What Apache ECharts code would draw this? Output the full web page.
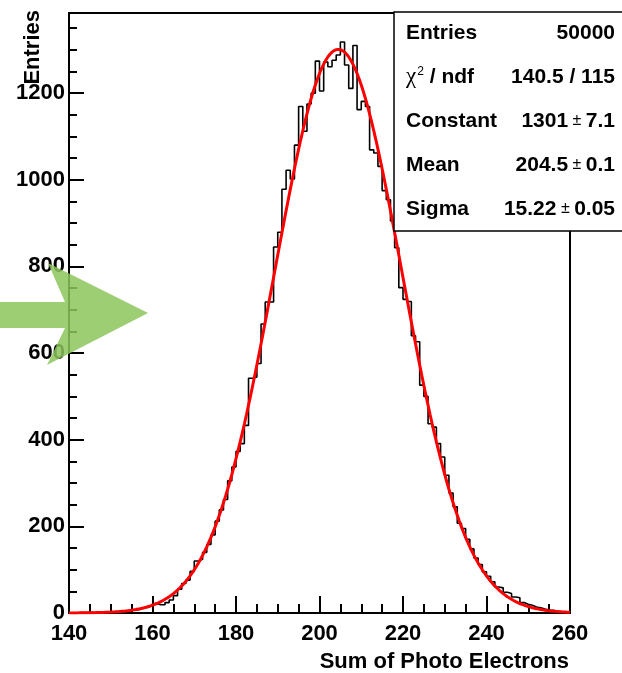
<!DOCTYPE html>
<html>
<head>
<meta charset="utf-8">
<script src="https://cdn.jsdelivr.net/npm/echarts@6/dist/echarts.min.js"></script>
<style>
html, body { margin: 0; padding: 0; background: #fff; }
#chart { width: 622px; height: 673px; }
</style>
</head>
<body>
<div id="chart"></div>
<script>
// Histogram binning: 120 bins of width 1 from 140 to 260
const xMin = 140;
const xMax = 260;
const binWidth = 1;

// Bin contents, one per bin starting at xMin
const counts = [
  0, 0, 1, 1, 1, 1, 1, 1, 2, 2,            // 140-149
  3, 3, 4, 5, 6, 7, 8, 12, 13, 17,         // 150-159
  22, 19, 19, 24, 30, 40, 55, 68, 76, 96,  // 160-169
  120, 124, 140, 158, 180, 212, 238, 262, 305, 337,      // 170-179
  373, 391, 433, 542, 545, 576, 667, 718, 718, 845,      // 180-189
  879, 978, 1022, 1002, 1080, 1169, 1112, 1175, 1200, 1274, // 190-199
  1205, 1272, 1261, 1276, 1288, 1318, 1265, 1211, 1310, 1162, // 200-209
  1181, 1169, 1069, 1062, 1031, 975, 954, 905, 843, 751, // 210-219
  724, 719, 640, 626, 526, 500, 437, 429, 391, 360,      // 220-229
  318, 277, 245, 207, 195, 170, 148, 127, 112, 95,       // 230-239
  85, 72, 60, 58, 48, 45, 37, 35, 24, 20,                // 240-249
  18, 14, 12, 9, 7, 6, 4, 3, 2, 1                        // 250-259
];

// Gaussian fit result
const fitConstant = 1301;
const fitMean = 204.5;
const fitSigma = 15.22;

// Axis ticks
const xTicks = [140, 160, 180, 200, 220, 240, 260];
const yMajorTicks = [0, 200, 400, 600, 800, 1000, 1200];
const yMinorStep = 50;
const yMax = 1385;

// Statistics box rows
const statNames = ['Entries', 'chi2', 'Constant', 'Mean', 'Sigma'];
const statValues = [
  '{b|50000}',
  '{b|140.5 / 115}',
  '{b|1301}{pm| ± }{b|7.1}',
  '{b|204.5}{pm| ± }{b|0.1}',
  '{b|15.22}{pm| ± }{b|0.05}'
];

const FONT = 'Liberation Sans, Arial, Helvetica, sans-serif';

// Step outline of the histogram
const histData = counts.map((c, i) => [xMin + i * binWidth, c]);
histData.push([xMax, counts[counts.length - 1]]);

// Fit curve evaluated across the axis range
const fitData = [];
for (let x = xMin; x <= xMax + 1e-9; x += 0.5) {
  const t = (x - fitMean) / fitSigma;
  fitData.push([x, fitConstant * Math.exp(-0.5 * t * t)]);
}

const yMinorTicks = [];
for (let v = yMinorStep; v < yMax; v += yMinorStep) {
  if (v % 200 !== 0) yMinorTicks.push(v);
}

const boxLeft = 394, boxTop = 12, boxBottom = 231;
const rowY0 = 33, rowStep = 44;
const richStyles = {
  b: { fontFamily: FONT, fontWeight: 'bold', fontSize: 21, fill: '#000' },
  pm: { fontFamily: FONT, fontWeight: 'normal', fontSize: 16, fill: '#000' },
  chi: { fontFamily: 'Liberation Serif, serif', fontSize: 23, fill: '#000' },
  sup: { fontFamily: FONT, fontSize: 12, fill: '#000', verticalAlign: 'top', padding: [0, 0, 8, 1] }
};

const statGraphics = [{
  type: 'rect',
  shape: { x: boxLeft, y: boxTop, width: 260, height: boxBottom - boxTop },
  style: { fill: '#fff', stroke: '#000', lineWidth: 1.5 },
  z: 100
}];
statNames.forEach((name, i) => {
  const y = rowY0 + i * rowStep;
  statGraphics.push({
    type: 'text', x: 406, y: y, z: 101,
    style: {
      text: name === 'chi2' ? '{chi|χ}{sup|2}{b| / ndf}' : '{b|' + name + '}',
      rich: richStyles, align: 'left', verticalAlign: 'middle'
    }
  });
  statGraphics.push({
    type: 'text', x: 615, y: y, z: 101,
    style: { text: statValues[i], rich: richStyles, align: 'right', verticalAlign: 'middle' }
  });
});

const chart = echarts.init(document.getElementById('chart'), null, { renderer: 'canvas' });

const tickLine = { color: '#000', width: 2 };
const labelStyle = { color: '#000', fontSize: 22, fontWeight: 'bold', fontFamily: FONT, formatter: v => String(v) };

chart.setOption({
  animation: false,
  backgroundColor: '#fff',
  grid: {
    left: 69, top: 13, width: 501, height: 600,
    show: true, borderColor: '#000', borderWidth: 2,
    outerBoundsMode: 'none'
  },
  xAxis: {
    type: 'value', min: xMin, max: xMax, interval: 20,
    axisLine: { onZero: false, lineStyle: tickLine },
    axisTick: { inside: true, length: 17, lineStyle: tickLine, customValues: xTicks },
    minorTick: { show: true, splitNumber: 4, length: 9, lineStyle: tickLine },
    splitLine: { show: false },
    minorSplitLine: { show: false },
    axisLabel: Object.assign({ margin: 10, customValues: xTicks }, labelStyle)
  },
  yAxis: [{
    type: 'value', min: 0, max: yMax,
    axisLine: { show: true, lineStyle: tickLine },
    axisTick: { show: true, inside: true, length: 15, lineStyle: tickLine, customValues: yMajorTicks },
    splitLine: { show: false },
    axisLabel: Object.assign({ margin: 4, customValues: yMajorTicks, padding: [6, 0, 0, 0] }, labelStyle)
  }, {
    type: 'value', min: 0, max: yMax, position: 'left',
    axisLine: { show: false },
    axisTick: { show: true, inside: true, length: 8, lineStyle: tickLine, customValues: yMinorTicks },
    axisLabel: { show: false },
    splitLine: { show: false }
  }],
  series: [{
    name: 'Entries',
    type: 'line',
    step: 'end',
    data: histData,
    symbol: 'none',
    lineStyle: { color: '#000', width: 1.6 },
    z: 2
  }, {
    name: 'Gaussian fit',
    type: 'line',
    data: fitData,
    symbol: 'none',
    smooth: false,
    lineStyle: { color: '#ff0000', width: 3 },
    z: 3
  }],
  graphic: statGraphics.concat([
    {
      type: 'text', x: 569, y: 662, z: 50,
      style: { text: 'Sum of Photo Electrons', font: 'bold 22px ' + FONT, fill: '#000', align: 'right', verticalAlign: 'middle' }
    },
    {
      type: 'text', x: 33, y: 10, rotation: Math.PI / 2, z: 50,
      style: { text: 'Entries', font: 'bold 22px ' + FONT, fill: '#000', align: 'right', verticalAlign: 'middle' }
    },
    {
      type: 'polygon', z: 200,
      shape: { points: [[0, 302], [65, 302], [48, 263], [148, 313], [47, 365], [65, 328], [0, 328]] },
      style: { fill: 'rgba(140, 198, 90, 0.85)' }
    }
  ])
});
</script>
</body>
</html>
